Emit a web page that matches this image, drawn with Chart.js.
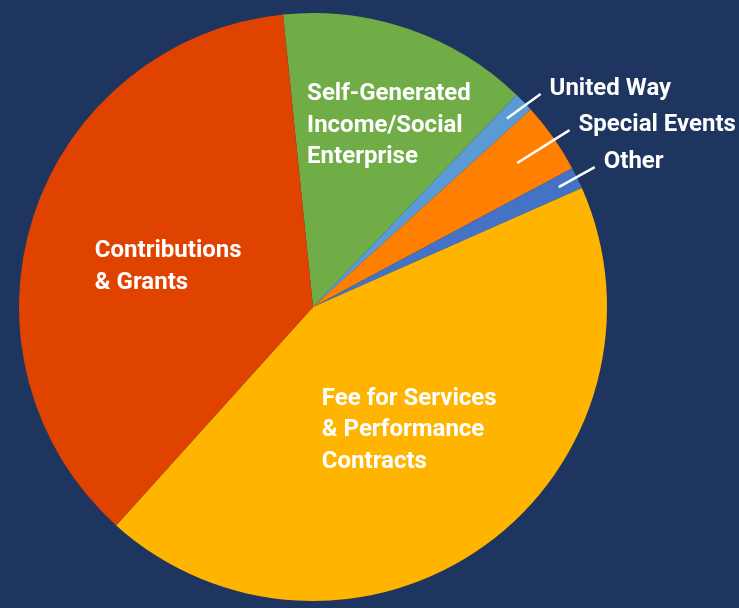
<!DOCTYPE html>
<html>
<head>
<meta charset="utf-8">
<script src="https://cdn.jsdelivr.net/npm/chart.js@4/dist/chart.umd.min.js"></script>
<style>
  html, body { margin: 0; padding: 0; background: #1e3560; }
  #wrap { width: 739px; height: 608px; }
</style>
</head>
<body>
<div id="wrap"><canvas id="pie"></canvas></div>
<script>
const CATEGORIES = ['Self-Generated Income/Social Enterprise', 'United Way', 'Special Events', 'Other', 'Fee for Services & Performance Contracts', 'Contributions & Grants'];
const SHARES = [13.8, 1.1, 3.9, 1.2, 43.3, 36.7];
const COLORS = ['#70ad47', '#5b9bd5', '#ff8000', '#4472c4', '#ffb400', '#e04300'];
// label lines; inside labels get an offset in radius units, outside ones a leader line
const LABEL_LINES = [
  ['Self-Generated', 'Income/Social', 'Enterprise'],
  ['United Way'],
  ['Special Events'],
  ['Other'],
  ['Fee for Services', '& Performance', 'Contracts'],
  ['Contributions', '& Grants']
];
const INSIDE = { 0: [-0.02, -0.704], 4: [0.03, 0.333], 5: [-0.742, -0.17] };
// leader: [inner radius, outer radius, angle tweak of outer end in degrees]
const LEADER = { 1: [0.92, 1.06, 1.1], 2: [0.85, 1.06, 0.6], 3: [0.93, 1.07, -0.4] };

const FONT = 'bold 24px Roboto';

const labelPlugin = {
  id: 'pieLabels',
  afterDatasetsDraw(chart) {
    const ctx = chart.ctx;
    const arcs = chart.getDatasetMeta(0).data;
    ctx.save();
    ctx.fillStyle = '#fff';
    ctx.strokeStyle = '#fff';
    ctx.font = FONT;
    ctx.textAlign = 'left';
    ctx.textBaseline = 'alphabetic';
    arcs.forEach((arc, i) => {
      const { x, y, outerRadius: R, startAngle, endAngle } = arc.getProps(['x', 'y', 'outerRadius', 'startAngle', 'endAngle'], true);
      if (INSIDE[i]) {
        const [ox, oy] = INSIDE[i];
        LABEL_LINES[i].forEach((t, k) => ctx.fillText(t, x + ox * R, y + oy * R + k * 31.5));
      } else {
        const [rIn, rOut, tweak] = LEADER[i];
        const mid = (startAngle + endAngle) / 2;
        const end = mid + tweak * Math.PI / 180;
        const x1 = x + Math.cos(mid) * R * rIn, y1 = y + Math.sin(mid) * R * rIn;
        const x2 = x + Math.cos(end) * R * rOut, y2 = y + Math.sin(end) * R * rOut;
        ctx.lineWidth = 2.5;
        ctx.beginPath(); ctx.moveTo(x1, y1); ctx.lineTo(x2, y2); ctx.stroke();
        ctx.fillText(LABEL_LINES[i][0], x2 + 9, y2 + 1);
      }
    });
    ctx.restore();
  }
};

new Chart(document.getElementById('pie'), {
  type: 'pie',
  data: {
    labels: CATEGORIES,
    datasets: [{ data: SHARES, backgroundColor: COLORS, borderWidth: 0 }]
  },
  options: {
    responsive: true,
    maintainAspectRatio: false,
    animation: false,
    rotation: -5.85,
    layout: { padding: { left: 19, right: 132, top: 13, bottom: 7 } },
    plugins: { legend: { display: false }, tooltip: { enabled: false } }
  },
  plugins: [labelPlugin]
});
</script>
</body>
</html>
